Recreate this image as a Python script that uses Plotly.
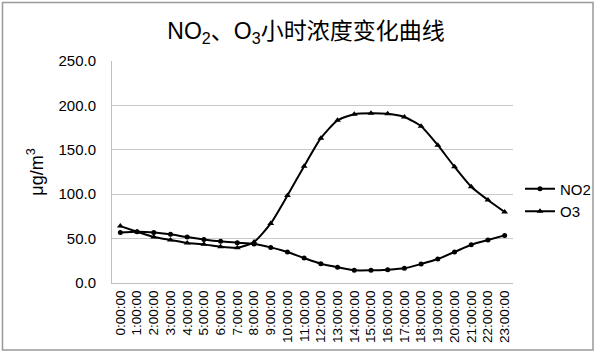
import plotly.graph_objects as go

hours = [f"{h}:00:00" for h in range(24)]
no2 = [57.0, 57.7, 57.0, 54.8, 51.7, 49.1, 46.9, 45.4, 43.9, 40.1, 34.9, 28.1,
       21.7, 17.8, 14.3, 14.3, 15.0, 16.5, 21.4, 27.0, 34.9, 43.1, 48.4, 53.6]
o3 = [64.1, 57.7, 51.7, 48.4, 45.0, 43.5, 40.8, 39.7, 46.1, 67.1, 98.5, 131.6,
      163.1, 183.2, 190.1, 191.2, 190.5, 187.0, 176.6, 155.2, 130.8, 108.3, 93.4, 79.9]
y_ticks = [0, 50, 100, 150, 200, 250]
y_ticklabels = ["0.0", "50.0", "100.0", "150.0", "200.0", "250.0"]

font = "Liberation Sans, Arial, sans-serif"

fig = go.Figure()
fig.add_trace(go.Scatter(x=hours, y=no2, name="NO2", mode="lines+markers",
                         line=dict(color="black", width=2, shape="spline", smoothing=0.6),
                         marker=dict(symbol="circle", size=5, color="black")))
fig.add_trace(go.Scatter(x=hours, y=o3, name="O3", mode="lines+markers",
                         line=dict(color="black", width=2, shape="spline", smoothing=0.6),
                         marker=dict(symbol="triangle-up", size=6, color="black")))

L, R, T, B = 112, 513, 61, 283
W, H = R - L, B - T
def px(x): return (x - L) / W
def py(y): return (B - y) / H

fig.update_layout(
    width=596, height=359,
    margin=dict(l=L, r=596 - R, t=T, b=359 - B, pad=0, autoexpand=False),
    paper_bgcolor="white", plot_bgcolor="white",
    font=dict(family=font, color="black", size=14),
    title=dict(text="NO<sub>2</sub>、O<sub>3</sub>小时浓度变化曲线",
               x=306 / 596, xanchor="center", y=1 - 31 / 359, yanchor="middle",
               font=dict(size=23, family="Liberation Sans, Noto Sans CJK SC, sans-serif")),
    showlegend=True,
    legend=dict(x=px(520), xanchor="left", y=py(200), yanchor="middle",
                font=dict(size=15), bgcolor="rgba(0,0,0,0)", itemwidth=30,
                tracegroupgap=2),
    xaxis=dict(type="category", tickangle=-90, showgrid=False, showline=True,
               linecolor="#bfbfbf", linewidth=1, ticks="", tickfont=dict(size=13.5),
               tickmode="array", tickvals=hours, ticktext=hours,
               ticklabelstandoff=1, range=[-0.5, 23.5], automargin=False),
    yaxis=dict(range=[0, 250], tickvals=y_ticks, ticktext=y_ticklabels,
               showgrid=True, gridcolor="#c8c8c8", gridwidth=1, zeroline=False,
               showline=True, linecolor="#bfbfbf", linewidth=1, ticks="",
               tickfont=dict(size=15), ticklabelstandoff=12, automargin=False,
               title=dict(text="μg/m<sup>3</sup>", font=dict(size=18), standoff=10)),
    shapes=[dict(type="rect", xref="paper", yref="paper",
                 x0=px(2.5), x1=px(593), y0=py(350), y1=py(2.5),
                 line=dict(color="#999999", width=1.5), layer="below")],
)

fig.write_html("out.html", config={"displayModeBar": False},
               post_script="document.body.style.margin='0px';")
